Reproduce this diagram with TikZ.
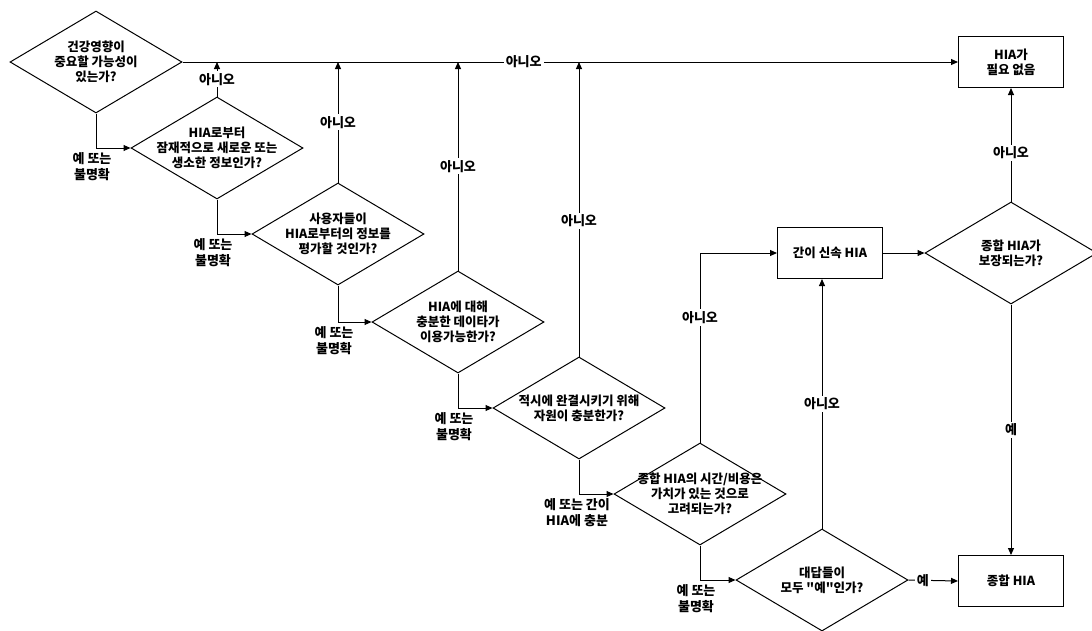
\documentclass[tikz,border=0pt]{standalone}
\usepackage{fontspec}
\setmainfont{Noto Sans CJK KR}[Ligatures=TeXOff]
\usetikzlibrary{positioning,calc,arrows.meta,shapes.geometric}

\begin{document}
\begin{tikzpicture}[x=1pt,y=-1pt,
    dec/.style={diamond,draw,line width=1pt,minimum width=172pt,minimum height=102pt,inner sep=0pt},
    txt/.style={align=center,font=\fontsize{12.5}{15}\selectfont\bfseries},
    res/.style={rectangle,draw,line width=1pt,minimum width=105pt,minimum height=51pt,align=center,font=\fontsize{12.5}{15}\selectfont\bfseries},
    lbl/.style={fill=white,inner sep=2pt,font=\fontsize{13}{15}\selectfont\bfseries},
    ans/.style={align=center,anchor=north,xshift=-4pt,yshift=-2pt,inner sep=2pt,font=\fontsize{13}{16}\selectfont\bfseries},
    ptr/.style={-{Triangle[length=7pt,width=6pt]},line width=1pt}]

\useasboundingbox (0,0) rectangle (1092,630);

% Questions
\node[dec] (q1) at (96,62) {};
\node[txt] at (q1) {건강영향이\\중요할 가능성이\\있는가?};
\node[dec] (q2) at (217,148) {};
\node[txt] at (q2) {HIA로부터\\잠재적으로 새로운 또는\\생소한 정보인가?};
\node[dec] (q3) at (338,234) {};
\node[txt] at (q3) {사용자들이\\HIA로부터의 정보를\\평가할 것인가?};
\node[dec] (q4) at (458,322) {};
\node[txt] at (q4) {HIA에 대해\\충분한 데이타가\\이용가능한가?};
\node[dec] (q5) at (579,408) {};
\node[txt] at (q5) {적시에 완결시키기 위해\\자원이 충분한가?};
\node[dec] (q6) at (700,494) {};
\node[txt] at (q6) {종합 HIA의 시간/비용은\\가치가 있는 것으로\\고려되는가?};
\node[dec] (q7) at (822,580) {};
\node[txt] at (q7) {대답들이\\모두 "예"인가?};
\node[dec] (q8) at (1011,253) {};
\node[txt] at (q8) {종합 HIA가\\보장되는가?};

% Outcomes
\node[res] (nb) at (1011,62) {HIA가\\필요 없음};
\node[res] (qh) at (830,253) {간이 신속 HIA};
\node[res] (fh) at (1011,581) {종합 HIA};

% Yes / unclear
\draw[ptr] (q1.south) |- node[ans,pos=0.5]{예 또는\\불명확} (q2.west);
\draw[ptr] (q2.south) |- node[ans,pos=0.5]{예 또는\\불명확} (q3.west);
\draw[ptr] (q3.south) |- node[ans,pos=0.5]{예 또는\\불명확} (q4.west);
\draw[ptr] (q4.south) |- node[ans,pos=0.5]{예 또는\\불명확} (q5.west);
\draw[ptr] (q5.south) |- node[ans,pos=0.5,xshift=2pt]{예 또는 간이\\HIA에 충분} (q6.west);
\draw[ptr] (q6.south) |- node[ans,pos=0.5]{예 또는\\불명확} (q7.west);

% No
\draw[ptr] (q1.east) -- node[lbl,pos=0.44]{아니오} (nb.west);
\draw[ptr] (q2.north) -- node[lbl]{아니오} (q2.north |- q1.east);
\draw[ptr] (q3.north) -- node[lbl]{아니오} (q3.north |- q1.east);
\draw[ptr] (q4.north) -- node[lbl]{아니오} (q4.north |- q1.east);
\draw[ptr] (q5.north) -- node[lbl,pos=0.46]{아니오} (q5.north |- q1.east);
\draw[ptr] (q6.north) |- node[lbl,pos=0.33]{아니오} (qh.west);
\draw[ptr] (q7.north) -- node[lbl]{아니오} (q7.north |- qh.south);
\draw[ptr] (q8.north) -- node[lbl,pos=0.43]{아니오} (nb.south);

% Right side
\draw[ptr] (qh.east) -- (q8.west);
\draw[ptr] (q8.south) -- node[lbl]{예} (fh.north);
\draw[ptr] (q7.east) -- node[lbl,pos=0.29]{예} (fh.west);

\end{tikzpicture}
\end{document}
